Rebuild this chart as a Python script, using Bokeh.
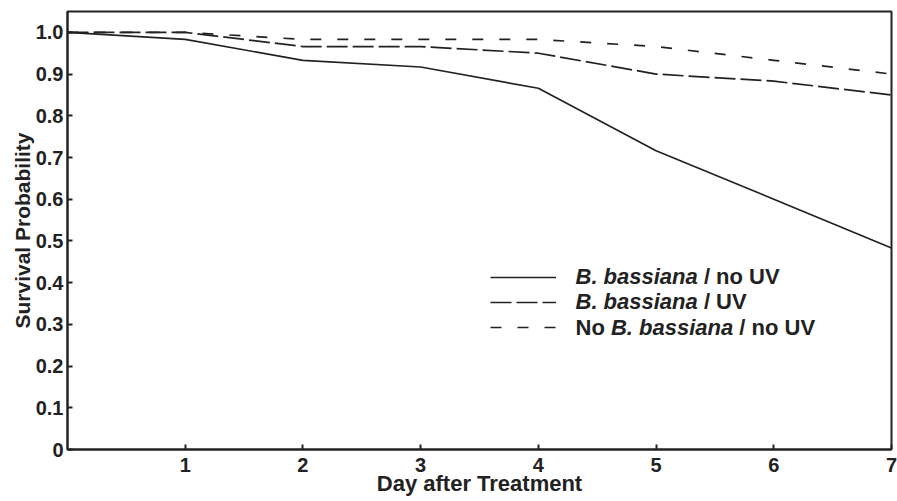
from bokeh.plotting import figure
from bokeh.models import Label, Range1d, FixedTicker, Legend, LegendItem
from bokeh.embed import file_html
from bokeh.resources import INLINE

days = [0, 1, 2, 3, 4, 5, 6, 7]
bb_no_uv = [1.0, 0.983, 0.933, 0.917, 0.866, 0.716, 0.600, 0.483]
bb_uv = [1.0, 1.0, 0.966, 0.966, 0.950, 0.900, 0.883, 0.850]
no_bb_no_uv = [1.0, 1.0, 0.983, 0.983, 0.983, 0.966, 0.933, 0.900]

x_ticks = [1, 2, 3, 4, 5, 6, 7]
y_ticks = [0, 0.1, 0.2, 0.3, 0.4, 0.5, 0.6, 0.7, 0.8, 0.9, 1.0]
y_tick_labels = ["0", "0.1", "0.2", "0.3", "0.4", "0.5", "0.6", "0.7", "0.8", "0.9", "1.0"]

FONT = "Liberation Sans"
INK = "#222222"

p = figure(width=897, height=501, output_backend="svg", toolbar_location=None,
           x_range=Range1d(0, 7), y_range=Range1d(0, 1.05),
           min_border_left=67, min_border_right=6, min_border_top=11, min_border_bottom=52)
p.background_fill_color = "white"
p.border_fill_color = "white"
p.outline_line_color = INK
p.outline_line_width = 2
p.grid.visible = False

for ax in (p.xaxis, p.yaxis):
    ax.axis_line_color = INK
    ax.axis_line_width = 2
    ax.major_tick_in = 5
    ax.major_tick_out = 0
    ax.major_tick_line_color = INK
    ax.major_tick_line_width = 2
    ax.minor_tick_line_color = None
    ax.major_label_text_font = FONT
    ax.major_label_text_font_style = "bold"
    ax.major_label_text_font_size = "20px"
    ax.major_label_text_color = INK
    ax.axis_label_text_font = FONT
    ax.axis_label_text_font_style = "bold"
    ax.axis_label_text_color = INK

p.xaxis.axis_label_text_font_size = "22px"
p.yaxis.axis_label_text_font_size = "21px"
p.xaxis.ticker = FixedTicker(ticks=x_ticks)
p.yaxis.ticker = FixedTicker(ticks=y_ticks)
p.yaxis.major_label_overrides = {t: l for t, l in zip(y_ticks, y_tick_labels)}
p.xaxis.axis_label = "Day after Treatment"
p.yaxis.axis_label = "Survival Probability"
p.xaxis.major_label_standoff = 8
p.xaxis.axis_label_standoff = -4
p.yaxis.major_label_standoff = 4
p.yaxis.axis_label_standoff = -1

r1 = p.line(days, bb_no_uv, line_color=INK, line_width=1.7)
r2 = p.line(days, bb_uv, line_color=INK, line_width=1.7, line_dash="21 5")
r3 = p.line(days, no_bb_no_uv, line_color=INK, line_width=1.7, line_dash="11 16")

legend = Legend(items=[LegendItem(label=" ", renderers=[r]) for r in (r1, r2, r3)],
                location=(423, 111), glyph_width=66, glyph_height=22, spacing=3,
                padding=0, margin=0, label_standoff=0, label_text_font_size="1px",
                border_line_color=None, background_fill_alpha=0)
p.add_layout(legend)

# legend texts (mixed italic / upright)
px_per_unit = 824 / 7.0
y_per_px = 1.05 / 438
text_x0 = 508  # px from frame left
rows_px = [173, 148, 122]  # px above frame bottom
FSZ = 22
FS = "%dpx" % FSZ
w_italic = 5.558 * FSZ
w_no = 1.611 * FSZ
w_space = 0.278 * FSZ

def lab(xpx, ypx, txt, style):
    p.add_layout(Label(x=xpx / px_per_unit, y=ypx * y_per_px, text=txt,
                       text_font=FONT, text_font_style=style, text_font_size=FS,
                       text_color=INK, text_baseline="middle", text_align="left"))

lab(text_x0, rows_px[0], "B. bassiana", "bold italic")
lab(text_x0 + w_italic + w_space, rows_px[0], "/ no UV", "bold")
lab(text_x0, rows_px[1], "B. bassiana", "bold italic")
lab(text_x0 + w_italic + w_space, rows_px[1], "/ UV", "bold")
lab(text_x0, rows_px[2], "No", "bold")
lab(text_x0 + w_no, rows_px[2], "B. bassiana", "bold italic")
lab(text_x0 + w_no + w_italic + w_space, rows_px[2], "/ no UV", "bold")

open("out.html", "w").write(file_html(p, INLINE))
